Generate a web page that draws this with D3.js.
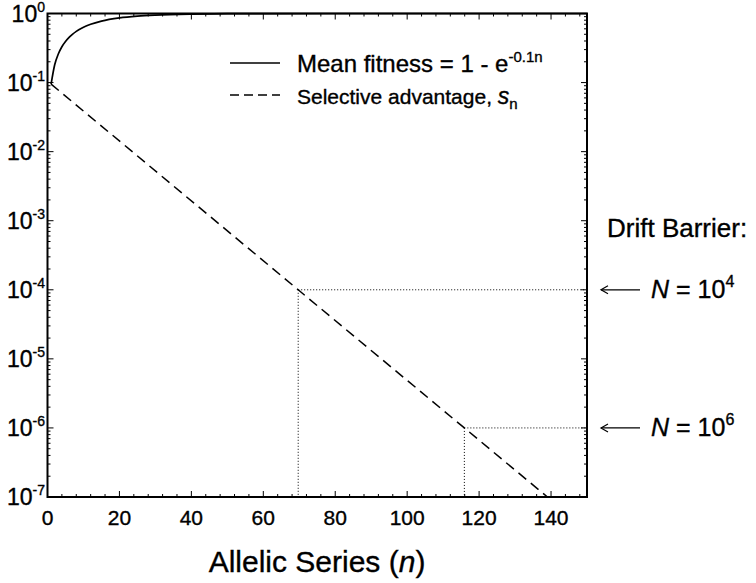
<!DOCTYPE html>
<html>
<head>
<meta charset="utf-8">
<script src="https://cdn.jsdelivr.net/npm/d3@7"></script>
<style>
  body { margin: 0; background: #fff; }
  svg text { font-family: "Liberation Sans", Arial, sans-serif; fill: #000; stroke: #000; stroke-width: 0.35px; }
</style>
</head>
<body>
<svg id="chart" width="756" height="583"></svg>
<script>
// values
const fitnessN = [1, 2, 3, 4, 5, 6, 7, 8, 10, 12, 15, 20, 25, 30, 40, 50, 60, 80, 100, 150];
const meanFitness = [0.095, 0.181, 0.259, 0.330, 0.393, 0.451, 0.503, 0.551, 0.632, 0.699, 0.777, 0.865, 0.918, 0.950, 0.982, 0.993, 0.998, 1.0, 1.0, 1.0];
const advantageN = [1, 69.7, 115.9, 139];
const selectiveAdvantage = [0.095, 1e-4, 1e-6, 1e-7];
const barrierN = [69.7, 115.9];
const barrierS = [1e-4, 1e-6];
const barrierExp = ['4', '6'];
const xTicks = [0, 20, 40, 60, 80, 100, 120, 140];
const yExps = [0, -1, -2, -3, -4, -5, -6, -7];

const svg = d3.select('#chart');
const plotL = 47.5, plotR = 587, plotT = 13.5, plotB = 497;

const x = d3.scaleLinear().domain([0, 150]).range([plotL, plotR]);
const y = d3.scaleLog().domain([1e-7, 1]).range([plotB, plotT]);

// ticks (inward, all four sides)
const minorX = d3.range(4, 150, 4).filter(function(v) { return v % 20 !== 0; });
const minorY = [];
yExps.slice(0, -1).forEach(function(e) {
  for (let k = 2; k <= 9; k++) minorY.push(k * Math.pow(10, e - 1));
});

const tickG = svg.append('g').attr('stroke', '#000').attr('stroke-width', 1);
xTicks.forEach(function(v) {
  tickG.append('line').attr('x1', x(v)).attr('x2', x(v)).attr('y1', plotB).attr('y2', plotB - 6);
  tickG.append('line').attr('x1', x(v)).attr('x2', x(v)).attr('y1', plotT).attr('y2', plotT + 6);
});
minorX.forEach(function(v) {
  tickG.append('line').attr('x1', x(v)).attr('x2', x(v)).attr('y1', plotB).attr('y2', plotB - 3);
  tickG.append('line').attr('x1', x(v)).attr('x2', x(v)).attr('y1', plotT).attr('y2', plotT + 3);
});
yExps.forEach(function(e) {
  const v = Math.pow(10, e);
  tickG.append('line').attr('x1', plotL).attr('x2', plotL + 6).attr('y1', y(v)).attr('y2', y(v));
  tickG.append('line').attr('x1', plotR).attr('x2', plotR - 6).attr('y1', y(v)).attr('y2', y(v));
});
minorY.forEach(function(v) {
  tickG.append('line').attr('x1', plotL).attr('x2', plotL + 3).attr('y1', y(v)).attr('y2', y(v));
  tickG.append('line').attr('x1', plotR).attr('x2', plotR - 3).attr('y1', y(v)).attr('y2', y(v));
});

// dotted drift barrier guides
const guideG = svg.append('g').attr('stroke', '#000').attr('stroke-width', 1).attr('stroke-dasharray', '1,2');
barrierN.forEach(function(n, i) {
  guideG.append('line').attr('x1', x(n)).attr('x2', x(n)).attr('y1', y(barrierS[i])).attr('y2', plotB);
  guideG.append('line').attr('x1', x(n)).attr('x2', plotR).attr('y1', y(barrierS[i])).attr('y2', y(barrierS[i]));
});

// curves
const fitnessData = fitnessN.map(function(n, i) { return [n, meanFitness[i]]; });
const advantageData = advantageN.map(function(n, i) { return [n, selectiveAdvantage[i]]; });

svg.append('path').datum(fitnessData)
  .attr('d', d3.line().x(function(d) { return x(d[0]); }).y(function(d) { return y(d[1]); }).curve(d3.curveMonotoneX))
  .attr('fill', 'none').attr('stroke', '#000').attr('stroke-width', 1.7);
svg.append('path').datum(advantageData)
  .attr('d', d3.line().x(function(d) { return x(d[0]); }).y(function(d) { return y(d[1]); }))
  .attr('fill', 'none').attr('stroke', '#000').attr('stroke-width', 1.5)
  .attr('stroke-dasharray', '10,6');

// frame
svg.append('rect').attr('x', plotL).attr('y', plotT)
  .attr('width', plotR - plotL).attr('height', plotB - plotT)
  .attr('fill', 'none').attr('stroke', '#000').attr('stroke-width', 2);

// y labels
yExps.forEach(function(e) {
  const t = svg.append('text').attr('x', 45).attr('y', y(Math.pow(10, e)) + 8)
    .attr('text-anchor', 'end').attr('font-size', 23);
  t.append('tspan').text('10');
  t.append('tspan').attr('dy', -10).attr('font-size', 14).text(String(e));
});

// x labels
xTicks.forEach(function(v) {
  svg.append('text').attr('x', x(v)).attr('y', 525)
    .attr('text-anchor', 'middle').attr('font-size', 21).text(v);
});

// axis title
const title = svg.append('text').attr('x', 317).attr('y', 572)
  .attr('text-anchor', 'middle').attr('font-size', 30);
title.append('tspan').text('Allelic Series (');
title.append('tspan').attr('font-style', 'italic').text('n');
title.append('tspan').text(')');

// legend
svg.append('line').attr('x1', 230).attr('x2', 280).attr('y1', 63).attr('y2', 63)
  .attr('stroke', '#000').attr('stroke-width', 1.7);
svg.append('line').attr('x1', 230).attr('x2', 280).attr('y1', 95).attr('y2', 95)
  .attr('stroke', '#000').attr('stroke-width', 1.5).attr('stroke-dasharray', '9,5');
const l1 = svg.append('text').attr('x', 297).attr('y', 72).attr('font-size', 24);
l1.append('tspan').text('Mean fitness = 1 - e');
l1.append('tspan').attr('dy', -10).attr('font-size', 15).text('-0.1n');
const l2 = svg.append('text').attr('x', 297).attr('y', 104).attr('font-size', 21);
l2.append('tspan').text('Selective advantage, ');
l2.append('tspan').attr('font-style', 'italic').attr('font-size', 23).text('s');
l2.append('tspan').attr('dy', 5).attr('font-size', 15).text('n');

// drift barrier annotations
svg.append('text').attr('x', 607).attr('y', 237).attr('font-size', 26).text('Drift Barrier:');
barrierS.forEach(function(s, i) {
  const yy = y(s);
  const a = svg.append('g').attr('stroke', '#000').attr('stroke-width', 1.2).attr('fill', 'none');
  a.append('line').attr('x1', 601).attr('x2', 640).attr('y1', yy).attr('y2', yy);
  a.append('path').attr('d', 'M608,' + (yy - 4) + 'L601,' + yy + 'L608,' + (yy + 4));
  const t = svg.append('text').attr('x', 651).attr('y', yy + 8).attr('font-size', 25);
  t.append('tspan').attr('font-style', 'italic').text('N');
  t.append('tspan').text(' = 10');
  t.append('tspan').attr('dy', -11).attr('font-size', 16).text(barrierExp[i]);
});
</script>
</body>
</html>
